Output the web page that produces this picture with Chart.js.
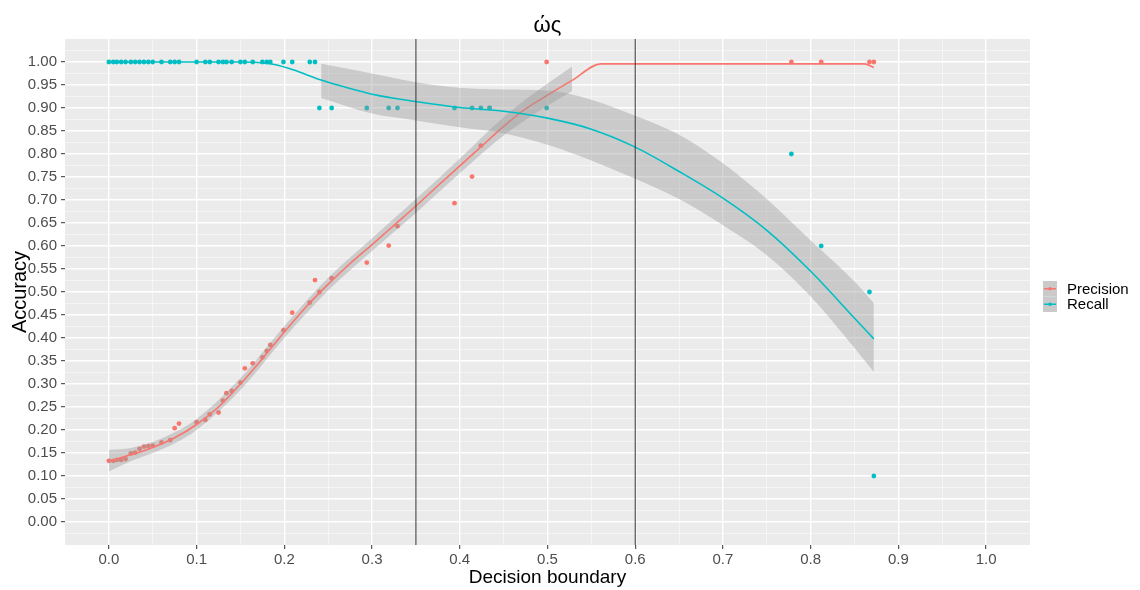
<!DOCTYPE html>
<html>
<head>
<meta charset="utf-8">
<script src="https://cdn.jsdelivr.net/npm/chart.js@4.4.0/dist/chart.umd.min.js"></script>
<style>
  html, body { margin: 0; padding: 0; background: #fff; }
</style>
</head>
<body>
<canvas id="graph" width="1140" height="590"></canvas>
<script>
// Values

const thresholds = [
  0.000, 0.005, 0.009, 0.014, 0.019, 0.025, 0.030, 0.035, 0.040, 0.045,
  0.050, 0.060, 0.070, 0.075, 0.080, 0.100, 0.110, 0.115, 0.125, 0.130,
  0.134, 0.140, 0.150, 0.155, 0.164, 0.175, 0.180, 0.184, 0.199, 0.209,
  0.229, 0.235, 0.240, 0.254, 0.294, 0.319, 0.329, 0.394, 0.414, 0.424,
  0.434, 0.499, 0.778, 0.812, 0.867, 0.872,
];
const precision = [
  0.133, 0.133, 0.135, 0.135, 0.137, 0.149, 0.151, 0.159, 0.164, 0.165,
  0.166, 0.173, 0.178, 0.204, 0.214, 0.217, 0.222, 0.234, 0.238, 0.264,
  0.280, 0.285, 0.303, 0.334, 0.345, 0.358, 0.372, 0.385, 0.417, 0.455,
  0.477, 0.526, 0.500, 0.530, 0.564, 0.601, 0.643, 0.693, 0.751, 0.818,
  0.900, 1.000, 1.000, 1.000, 1.000, 1.000,
];
const recall = [
  1, 1, 1, 1, 1, 1, 1, 1, 1, 1,
  1, 1, 1, 1, 1, 1, 1, 1, 1, 1,
  1, 1, 1, 1, 1, 1, 1, 1, 1, 1,
  1, 1, 0.9, 0.9, 0.9, 0.9, 0.9, 0.9, 0.9, 0.9,
  0.9, 0.9, 0.8, 0.6, 0.5, 0.1,
];

// smoothed fits and their confidence bands
const precisionFitX = [0, 0.025, 0.05, 0.075, 0.1, 0.125, 0.15, 0.175, 0.2, 0.225, 0.25, 0.275, 0.3,
  0.325, 0.35, 0.375, 0.4, 0.425, 0.45, 0.475, 0.5, 0.528, 0.561, 0.861, 0.872];
const precisionFit = [0.132, 0.146, 0.162, 0.183, 0.212, 0.250, 0.300, 0.355, 0.413, 0.468, 0.517, 0.562, 0.603,
  0.645, 0.687, 0.731, 0.774, 0.817, 0.860, 0.898, 0.928, 0.960, 0.996, 0.996, 0.988];

const precisionBandX = [0, 0.025, 0.05, 0.075, 0.1, 0.15, 0.2, 0.25, 0.3, 0.35, 0.4, 0.45, 0.5, 0.528];
const precisionLow = [0.110, 0.132, 0.150, 0.171, 0.200, 0.287, 0.400, 0.503, 0.589, 0.672, 0.758, 0.840, 0.905, 0.937];
const precisionHigh = [0.157, 0.161, 0.174, 0.195, 0.224, 0.313, 0.426, 0.531, 0.617, 0.702, 0.790, 0.880, 0.953, 0.990];

const recallFitX = [0, 0.15, 0.17, 0.19, 0.21, 0.24, 0.27, 0.3, 0.35, 0.4, 0.45, 0.5, 0.55, 0.6,
  0.65, 0.7, 0.75, 0.8, 0.85, 0.872];
const recallFit = [1.000, 1.000, 0.999, 0.994, 0.983, 0.962, 0.945, 0.930, 0.914, 0.901, 0.893, 0.878, 0.854, 0.815,
  0.762, 0.704, 0.634, 0.545, 0.443, 0.398];

const recallBandX = [0.242, 0.3, 0.35, 0.4, 0.45, 0.5, 0.55, 0.6, 0.65, 0.7, 0.75, 0.8, 0.85, 0.872];
const recallHigh = [0.996, 0.975, 0.956, 0.944, 0.940, 0.938, 0.918, 0.883, 0.842, 0.780, 0.702, 0.612, 0.523, 0.476];
const recallLow = [0.922, 0.888, 0.873, 0.858, 0.845, 0.820, 0.786, 0.746, 0.702, 0.645, 0.580, 0.490, 0.378, 0.326];

const boundaries = [0.35, 0.6];

const xTickLabels = ['0.0', '0.1', '0.2', '0.3', '0.4', '0.5', '0.6', '0.7', '0.8', '0.9', '1.0'];
const yTickLabels = ['0.00', '0.05', '0.10', '0.15', '0.20', '0.25', '0.30', '0.35', '0.40', '0.45', '0.50',
  '0.55', '0.60', '0.65', '0.70', '0.75', '0.80', '0.85', '0.90', '0.95', '1.00'];

const seriesNames = ['Precision', 'Recall'];
const seriesColors = ['#F8766D', '#00BFC4'];

// helpers
const pts = (xs, ys) => xs.map((x, i) => ({ x, y: ys[i] }));
const bandFill = 'rgba(153,153,153,0.4)';

Chart.defaults.font.family = "'Liberation Sans', Arial, sans-serif";

const fitLine = (data, color, order) => ({
  data,
  borderColor: color,
  borderWidth: 1.6,
  pointRadius: 0,
  cubicInterpolationMode: 'monotone',
  fill: false,
  order,
});

const datasets = [
  // 0,1 precision band
  { data: pts(precisionBandX, precisionLow), borderWidth: 0, pointRadius: 0, fill: false,
    cubicInterpolationMode: 'monotone', order: 8 },
  { data: pts(precisionBandX, precisionHigh), borderWidth: 0, pointRadius: 0, fill: '-1',
    backgroundColor: bandFill, cubicInterpolationMode: 'monotone', order: 8 },
  // 2,3 recall band
  { data: pts(recallBandX, recallLow), borderWidth: 0, pointRadius: 0, fill: false,
    cubicInterpolationMode: 'monotone', order: 6 },
  { data: pts(recallBandX, recallHigh), borderWidth: 0, pointRadius: 0, fill: '-1',
    backgroundColor: bandFill, cubicInterpolationMode: 'monotone', order: 6 },
  fitLine(pts(precisionFitX, precisionFit), seriesColors[0], 7),
  fitLine(pts(recallFitX, recallFit), seriesColors[1], 5),
  { data: pts(thresholds, precision), showLine: false, pointRadius: 2.4, borderWidth: 0,
    backgroundColor: seriesColors[0], order: 10 },
  { data: pts(thresholds, recall), showLine: false, pointRadius: 2.4, borderWidth: 0,
    backgroundColor: seriesColors[1], order: 9 },
];

boundaries.forEach((b) => {
  datasets.push({
    data: [{ x: b, y: -0.05 }, { x: b, y: 1.05 }],
    borderColor: '#333333',
    borderWidth: 1,
    pointRadius: 0,
    fill: false,
    order: 1,
  });
});

function isMajor(value, step, maxIndex) {
  const i = Math.round(value / step);
  return i % 2 === 0 && i >= 0 && i <= maxIndex;
}

const panelPlugin = {
  id: 'panel',
  beforeDraw(chart) {
    const { ctx, chartArea } = chart;
    ctx.save();
    ctx.fillStyle = '#EBEBEB';
    ctx.fillRect(chartArea.left, chartArea.top, chartArea.right - chartArea.left, chartArea.bottom - chartArea.top);
    ctx.restore();
  },
  afterDraw(chart) {
    const { ctx, chartArea } = chart;
    ctx.save();
    // title
    ctx.fillStyle = '#000000';
    ctx.font = "22px 'Liberation Sans', Arial, sans-serif";
    ctx.textAlign = 'center';
    ctx.textBaseline = 'middle';
    ctx.fillText('ώς', (chartArea.left + chartArea.right) / 2, 26);

    // legend
    const keyW = 14;
    const keyH = 15.5;
    const keyX = 1043;
    const keyY = 281;
    seriesNames.forEach((name, i) => {
      const top = keyY + i * keyH;
      const mid = top + keyH / 2;
      ctx.fillStyle = '#CACACA';
      ctx.fillRect(keyX, top, keyW, keyH);
      ctx.strokeStyle = seriesColors[i];
      ctx.lineWidth = 1.5;
      ctx.beginPath();
      ctx.moveTo(keyX + 1, mid);
      ctx.lineTo(keyX + keyW - 1, mid);
      ctx.stroke();
      ctx.fillStyle = seriesColors[i];
      ctx.beginPath();
      ctx.arc(keyX + keyW / 2, mid, 1.8, 0, Math.PI * 2);
      ctx.fill();
      ctx.fillStyle = '#000000';
      ctx.font = "15px 'Liberation Sans', Arial, sans-serif";
      ctx.textAlign = 'left';
      ctx.textBaseline = 'middle';
      ctx.fillText(name, 1067, mid + 1);
    });
    ctx.restore();
  },
};

const ctx = document.getElementById('graph').getContext('2d');
const chart = new Chart(ctx, {
  type: 'line',
  data: { datasets },
  plugins: [panelPlugin],
  options: {
    responsive: false,
    animation: false,
    devicePixelRatio: 1,
    layout: { padding: { left: 0, right: 110, top: 39, bottom: 0 } },
    plugins: {
      legend: { display: false },
      tooltip: { enabled: false },
    },
    scales: {
      x: {
        type: 'linear',
        min: -0.05,
        max: 1.05,
        afterBuildTicks: (scale) => {
          const ticks = [];
          for (let i = 0; i <= 20; i++) ticks.push({ value: i * 0.05 });
          scale.ticks = ticks;
        },
        afterFit: (scale) => { scale.height = 45; },
        ticks: {
          autoSkip: false,
          maxRotation: 0,
          minRotation: 0,
          padding: 2,
          color: '#4D4D4D',
          font: { size: 15 },
          callback: (value) => {
            const i = Math.round(value / 0.05);
            return i % 2 === 0 ? xTickLabels[i / 2] : '';
          },
        },
        grid: {
          color: (c) => (isMajor(c.tick.value, 0.05, 20) ? '#FFFFFF' : 'rgba(255,255,255,0.75)'),
          lineWidth: (c) => (isMajor(c.tick.value, 0.05, 20) ? 1.4 : 0.7),
          tickColor: (c) => (isMajor(c.tick.value, 0.05, 20) ? '#333333' : 'rgba(0,0,0,0)'),
          tickLength: 4,
          tickWidth: 1,
        },
        border: { display: false },
        title: {
          display: true,
          text: 'Decision boundary',
          color: '#000000',
          font: { size: 19 },
          padding: { top: 0, bottom: 1 },
        },
      },
      y: {
        type: 'linear',
        min: -0.05,
        max: 1.05,
        afterBuildTicks: (scale) => {
          const ticks = [];
          for (let i = -1; i <= 41; i++) ticks.push({ value: i * 0.025 });
          scale.ticks = ticks;
        },
        afterFit: (scale) => { scale.width = 65; },
        ticks: {
          autoSkip: false,
          padding: 4,
          color: '#4D4D4D',
          font: { size: 15 },
          callback: (value) => {
            const i = Math.round(value / 0.025);
            return isMajor(value, 0.025, 40) ? yTickLabels[i / 2] : '';
          },
        },
        grid: {
          color: (c) => (isMajor(c.tick.value, 0.025, 40) ? '#FFFFFF' : 'rgba(255,255,255,0.75)'),
          lineWidth: (c) => (isMajor(c.tick.value, 0.025, 40) ? 1.4 : 0.7),
          tickColor: (c) => (isMajor(c.tick.value, 0.025, 40) ? '#333333' : 'rgba(0,0,0,0)'),
          tickLength: 4,
          tickWidth: 1,
        },
        border: { display: false },
        title: {
          display: true,
          text: 'Accuracy',
          color: '#000000',
          font: { size: 20 },
          padding: { top: 8, bottom: 0 },
        },
      },
    },
  },
});
</script>
</body>
</html>
